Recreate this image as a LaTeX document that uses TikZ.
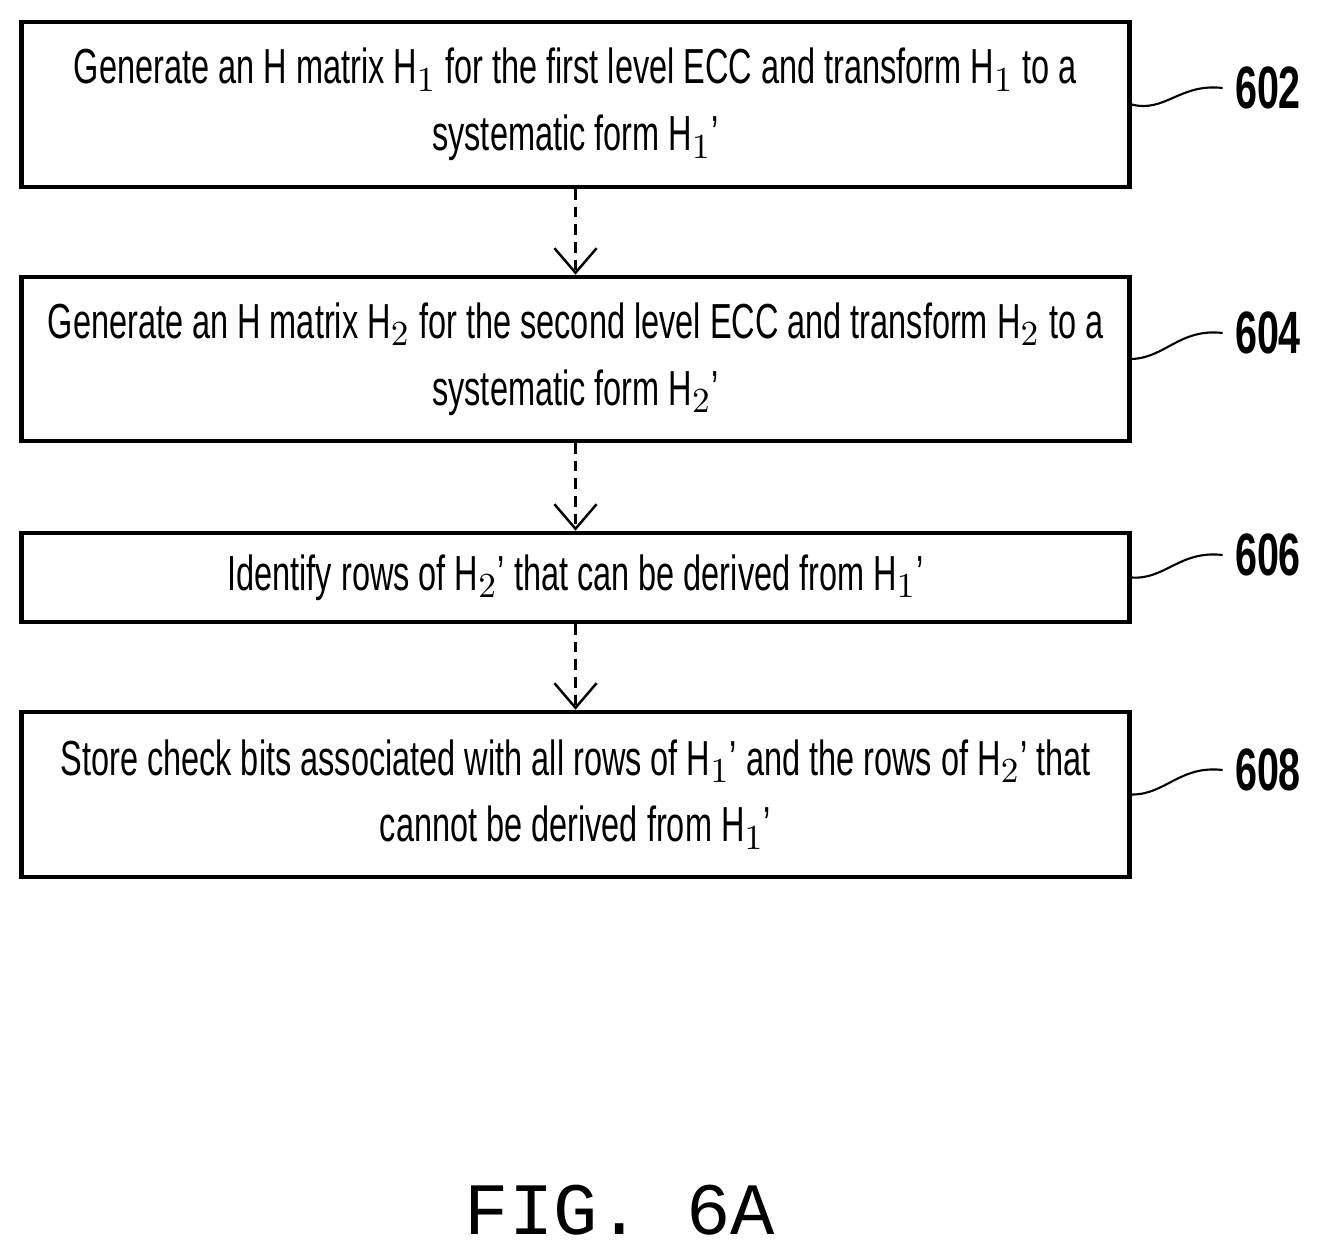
\documentclass[tikz,border=0pt]{standalone}
\usepackage{fontspec}
\setmainfont{Liberation Sans}[FakeStretch=0.66]
\newfontfamily\figfont{Liberation Mono}
\usetikzlibrary{arrows.meta}
\begin{document}
\begin{tikzpicture}[x=0.01cm,y=-0.01cm,
    box/.style={draw,line width=1.3pt,minimum width=11.07cm,inner sep=0pt,
      font=\fontsize{14}{19}\selectfont,align=center},
    flow/.style={draw,densely dashed,line width=0.7pt,->,>={Straight Barb[length=7pt,width=12pt]}},
    leader/.style={draw,line width=0.6pt},
    ref/.style={font=\fontsize{17}{20}\selectfont\bfseries}
  ]
  \useasboundingbox (0,0) rectangle (1330,1258);
  \node[box,minimum height=1.65cm] (b602) at (575.5,104.5)
    {Generate an H matrix H$_1$ for the first level ECC and transform H$_1$ to a\\systematic form H$_1$'};
  \node[box,minimum height=1.64cm] (b604) at (575.5,359)
    {Generate an H matrix H$_2$ for the second level ECC and transform H$_2$ to a\\systematic form H$_2$'};
  \node[box,minimum height=0.89cm] (b606) at (575.5,577.5)
    {Identify rows of H$_2$' that can be derived from H$_1$'};
  \node[box,minimum height=1.65cm] (b608) at (575.5,794.5)
    {Store check bits associated with all rows of H$_1$' and the rows of H$_2$' that\\cannot be derived from H$_1$'};
  % connectors
  \foreach \a/\b in {b602/b604,b604/b606,b606/b608}
    \path[flow] (\a.south) -- (\b.north);
  % reference numerals
  \foreach \n/\y in {602/88,604/333,606/555,608/770} {
    \node[ref] (r\n) at (1268,\y) {\n};
    \path[leader] (b\n.east) .. controls (1165,\y+25) and (1180,\y-5) .. (r\n.west);
  }
  \node[font=\figfont\fontsize{21}{24}\selectfont] (fig) at (620,1210) {FIG. 6A};
\end{tikzpicture}
\end{document}
